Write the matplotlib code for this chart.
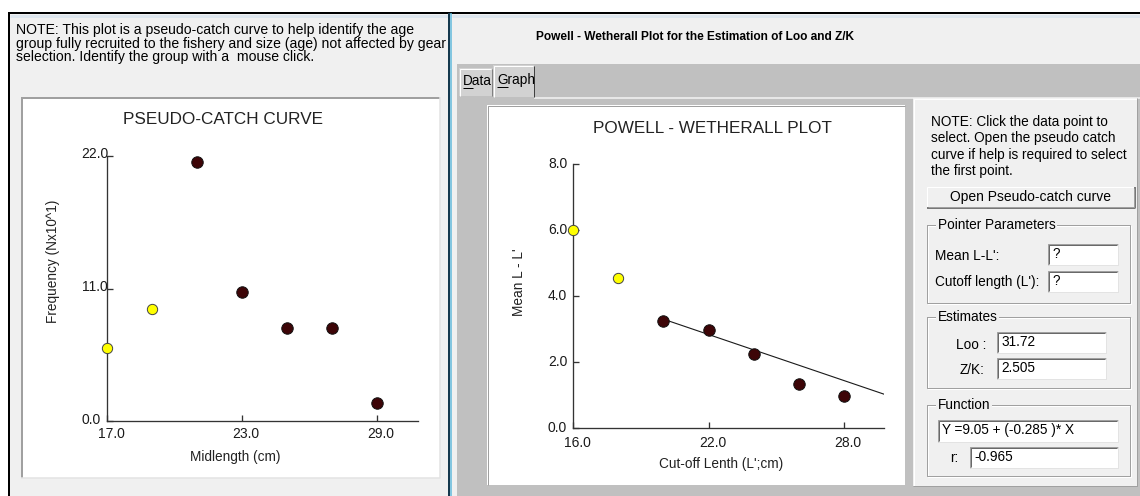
import numpy as np
import matplotlib.pyplot as plt
from matplotlib.patches import Rectangle
from matplotlib.transforms import ScaledTranslation

plt.rcParams['font.family'] = 'Liberation Sans'

W, H = 1140, 496

# pseudo-catch curve (left window)
catch_mid = [17, 19, 21, 23, 25, 27, 29]
catch_freq = [6.1, 9.3, 21.5, 10.7, 7.7, 7.7, 1.5]
catch_yellow = [1, 1, 0, 0, 0, 0, 0]
catch_xticks = [17, 23, 29]
catch_yticks = [0, 11, 22]

# powell - wetherall plot
pw_cut = [16, 18, 20, 22, 24, 26, 28]
pw_mean = [6.0, 4.56, 3.25, 2.98, 2.25, 1.33, 0.98]
pw_yellow = [1, 1, 0, 0, 0, 0, 0]
fit_x = [20.1, 29.8]
fit_y = [3.28, 1.03]
pw_xticks = [16, 22, 28]
pw_yticks = [0, 2, 4, 6, 8]

loo_txt = "31.72"
zk_txt = "2.505"
func_txt = "Y =9.05 + (-0.285 )* X"
r_txt = "-0.965"

fig = plt.figure(figsize=(W / 100, H / 100), dpi=100, facecolor='white')
bg = fig.add_axes([0, 0, 1, 1])
bg.set_xlim(0, W)
bg.set_ylim(H, 0)
bg.axis('off')


def box(x0, y0, x1, y1, fc, z=1):
    bg.add_patch(Rectangle((x0, y0), x1 - x0, y1 - y0, fc=fc, ec='none', zorder=z))


def line(xs, ys, c, lw=1, z=3):
    bg.plot(xs, ys, color=c, lw=lw * 0.72, zorder=z, solid_capstyle='butt')


def txt(x, y, s, size=9.8, ha='left', **kw):
    bg.text(x, y, s, fontsize=size, ha=ha, va='center', color='black', zorder=6, **kw)


def sunken(x0, y0, x1, y1, s=None):
    box(x0, y0, x1, y1, 'white', z=2)
    line([x0, x0, x1], [y1, y0, y0], '#a0a0a0')
    line([x0 + 1, x0 + 1, x1 - 1], [y1 - 1, y0 + 1, y0 + 1], '#696969')
    line([x0, x1, x1], [y1, y1, y0], '#e3e3e3')
    if s is not None:
        txt(x0 + 4, (y0 + y1) / 2 - 0.5, s)


def group(x0, y0, x1, y1, title):
    line([x0, x1, x1, x0, x0], [y0, y0, y1, y1, y0], '#a0a0a0')
    line([x0 + 1, x1 + 1, x1 + 1, x0 + 1, x0 + 1], [y0 + 1, y0 + 1, y1 + 1, y1 + 1, y0 + 1], 'white', z=2)
    txt(x0 + 11, y0, title, bbox=dict(fc='#f0f0f0', ec='none', pad=1))


# window frames
box(10, 14, 449, H, '#f0f0f0')
box(452, 14, W, H, '#f0f0f0')
line([10, 449], [16, 16], '#dde6ee', 3, z=2)
line([452, W], [16, 16], '#dde6ee', 3, z=2)
line([8, W], [13, 13], 'black', 2)
line([9, 9], [13, H], 'black', 2)
line([448.5, 448.5], [13, H], '#15384d', 2)
line([450.8, 450.8], [13, H], '#5ab4d6', 1.5)

# left window
note_left = ["NOTE: This plot is a pseudo-catch curve to help identify the age",
             "group fully recruited to the fishery and size (age) not affected by gear",
             "selection. Identify the group with a  mouse click."]
for i, s in enumerate(note_left):
    txt(16.5, 30 + i * 13.7, s, size=10.1)
box(21, 97, 440, 478, 'white')
line([21.5, 21.5], [97, 478], '#a0a0a0', 2)
line([21, 440], [97.5, 97.5], '#a0a0a0', 2)
line([21, 440, 440], [478, 478, 97], '#e3e3e3', 1.5)
bg.text(223, 120, "PSEUDO-CATCH CURVE", fontsize=12.3, ha='center', va='center', color='#222222', zorder=6)

# right window
bg.text(694.5, 37, "Powell - Wetherall Plot for the Estimation of Loo and Z/K", fontsize=8.6,
        fontweight='bold', ha='center', va='center', color='black', zorder=6)
box(457, 64, W, H, '#c0c0c0')
line([534, W], [97.5, 97.5], '#f4f4f4', 1.5)
# tabs
box(459, 68, 492, 96, '#d2d2d2', z=2)
line([459.5, 459.5, 491], [96, 68.5, 68.5], 'white')
line([492, 492], [69, 96], '#808080')
box(493, 65, 534, 97, '#d2d2d2', z=2)
line([493.5, 493.5, 533], [97, 65.5, 65.5], 'white')
line([534, 534], [66, 97], '#404040')
txt(463, 81, "Data")
txt(497, 80, "Graph")
line([463, 472.5], [88, 88], 'black')
line([497, 507.5], [87, 87], 'black')
# plot page
box(487, 105, 905, 485, 'white', z=2)
line([487.5, 487.5, 905], [485, 105.5, 105.5], '#a0a0a0')
bg.text(712.5, 128.3, "POWELL - WETHERALL PLOT", fontsize=12.3, ha='center', va='center', color='#222222', zorder=6)

# side panel
box(913, 98, 1137, 486, '#f0f0f0', z=2)
line([913.5, 913.5, 1137], [486, 98.5, 98.5], 'white')
line([913, 1137, 1137], [486, 486, 98], '#a0a0a0')
note_right = ["NOTE: Click the data point to",
              "select. Open the pseudo catch",
              "curve if help is required to select",
              "the first point."]
for i, s in enumerate(note_right):
    txt(930.7, 121.7 + i * 16.6, s)
# button
box(926.7, 186.7, 1135, 208.3, '#f0f0f0', z=2)
line([927, 927, 1134.5], [208, 187, 187], 'white')
line([927, 1135, 1135], [208.3, 208.3, 186.7], '#505050', 1.5)
line([928, 1133.5, 1133.5], [207, 207, 188], '#a0a0a0')
txt(1031, 197.5, "Open Pseudo-catch curve", ha='center', size=10)

group(926.7, 225, 1130, 303, "Pointer Parameters")
txt(935, 255.7, "Mean L-L':")
sunken(1048, 244, 1118, 265, "?")
txt(935, 282, "Cutoff length (L'):")
sunken(1048, 270.7, 1118, 291.7, "?")

group(926.7, 317, 1130, 387.7, "Estimates")
txt(986.7, 345, "Loo :", ha='right')
sunken(997, 332, 1106, 353, loo_txt)
txt(985, 370, "Z/K:", ha='right')
sunken(997, 358, 1106, 379, zk_txt)

group(926.7, 405, 1130, 476, "Function")
sunken(938, 420, 1118, 441.7, func_txt)
txt(950, 458, "r:")
sunken(970, 446.7, 1118, 468.3, r_txt)


def add_plot(px0, px1, py_top, py_bot):
    return fig.add_axes([px0 / W, (H - py_bot) / H, (px1 - px0) / W, (py_bot - py_top) / H],
                        facecolor='none')


def style(ax, xt, yt, xpad, ypad, dy):
    for s in ['top', 'right']:
        ax.spines[s].set_visible(False)
    for s in ['left', 'bottom']:
        ax.spines[s].set_color('#333333')
        ax.spines[s].set_linewidth(0.95)
    ax.set_xticks(xt)
    ax.set_yticks(yt)
    ax.set_xticklabels(["%.1f" % v for v in xt])
    ax.set_yticklabels(["%.1f" % v for v in yt])
    ax.tick_params(direction='in', length=4.3, width=0.95, color='#333333',
                   labelsize=10, labelcolor='#1a1a1a')
    ax.tick_params(axis='x', pad=xpad)
    ax.tick_params(axis='y', pad=ypad)
    for lb in ax.get_xticklabels():
        lb.set_transform(lb.get_transform() + ScaledTranslation(0.04, 0, fig.dpi_scale_trans))
    for lb in ax.get_yticklabels():
        lb.set_ha('left')
        lb.set_transform(lb.get_transform() + ScaledTranslation(0, dy / 100, fig.dpi_scale_trans))


def dots(ax, xs, ys, flags):
    xs, ys, flags = np.array(xs), np.array(ys), np.array(flags)
    dark = flags == 0
    ax.scatter(xs[dark], ys[dark], s=68, c='#3d0507', edgecolors='#111111', linewidths=0.7,
               zorder=4, clip_on=False)
    ax.scatter(xs[~dark], ys[~dark], s=55, c='#ffff00', edgecolors='#444444', linewidths=0.7,
               zorder=4, clip_on=False)


# left plot
ax1 = add_plot(107.3, 417.7, 156, 421)
ax1.set_xlim(17, 30.83)
ax1.set_ylim(0, 22)
style(ax1, catch_xticks, catch_yticks, 4.5, 18.5, 3)
dots(ax1, catch_mid, catch_freq, catch_yellow)
ax1.set_xlabel("Midlength (cm)", fontsize=9.8, color='#222222', va='center')
ax1.set_ylabel("Frequency (Nx10^1)", fontsize=9.8, color='#222222', va='center')
ax1.xaxis.set_label_coords(0.411, -0.135)
ax1.yaxis.set_label_coords(-0.175, 0.601)

# right plot
ax2 = add_plot(573.3, 884.3, 164, 428.3)
ax2.set_xlim(16, 29.8)
ax2.set_ylim(0, 8)
style(ax2, pw_xticks, pw_yticks, 5.5, 18.3, 1.5)
ax2.plot(fit_x, fit_y, color='#1a1a1a', lw=0.8, zorder=3)
dots(ax2, pw_cut, pw_mean, pw_yellow)
ax2.set_xlabel("Cut-off Lenth (L';cm)", fontsize=9.8, color='#222222', va='center')
ax2.set_ylabel("Mean L - L'", fontsize=9.8, color='#222222', va='center')
ax2.xaxis.set_label_coords(0.474, -0.135)
ax2.yaxis.set_label_coords(-0.174, 0.551)

fig.savefig("out.png", dpi=100, facecolor='white')
